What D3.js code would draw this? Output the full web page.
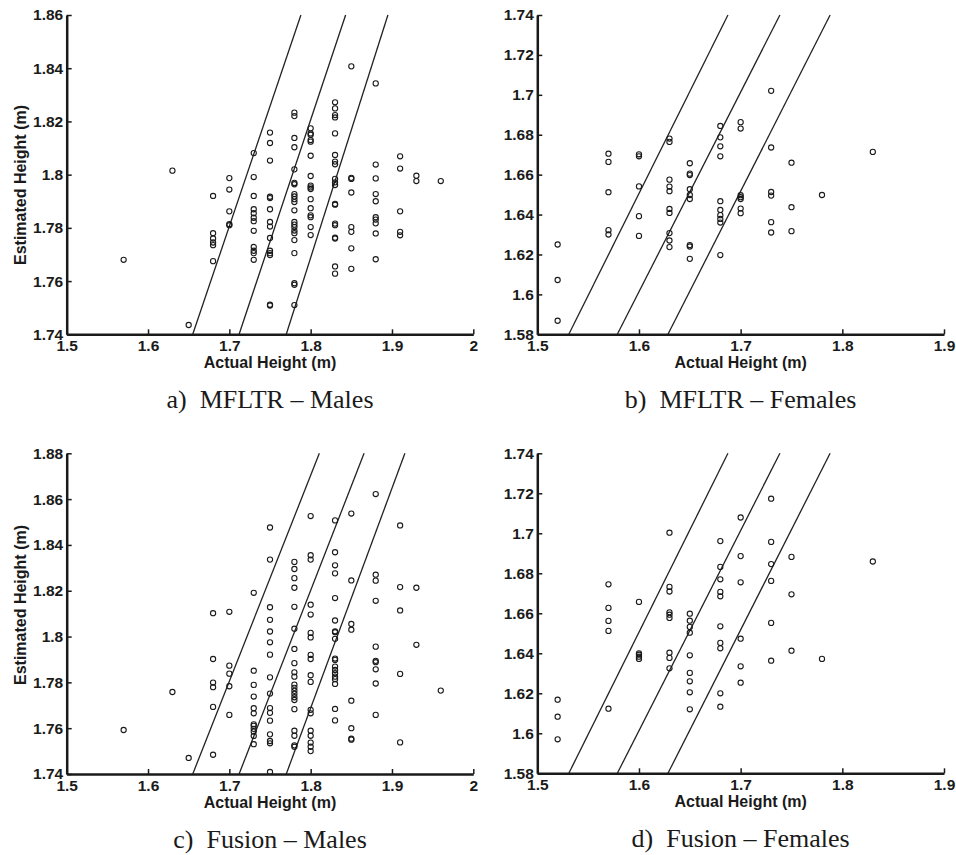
<!DOCTYPE html>
<html>
<head>
<meta charset="utf-8">
<script src="https://cdn.jsdelivr.net/npm/d3@7/dist/d3.min.js"></script>
<style>
  body { margin: 0; background: #fff; }
  .tick-label { font-family: 'Liberation Sans', Arial, sans-serif; font-weight: bold; font-size: 15.5px; fill: #1a1a1a; }
  .axis-title { font-family: 'Liberation Sans', Arial, sans-serif; font-weight: bold; font-size: 16px; fill: #1a1a1a; }
  .caption { font-family: 'Liberation Serif', 'Times New Roman', serif; font-size: 26px; fill: #1a1a1a; white-space: pre; }
</style>
</head>
<body>
<svg id="chart" width="956" height="855"></svg>
<script>
// actual height (m) -> estimated heights (m), read column by column
var mfltrMales = [
  [1.57, [1.768]],
  [1.63, [1.8015]],
  [1.65, [1.7435]],
  [1.68, [1.792, 1.778, 1.776, 1.7745, 1.7735, 1.7675]],
  [1.70, [1.7987, 1.7944, 1.7862, 1.7814, 1.781]],
  [1.73, [1.8081, 1.7991, 1.792, 1.787, 1.7855, 1.7838, 1.7825, 1.7789, 1.7728, 1.7714, 1.7705, 1.768]],
  [1.75, [1.8158, 1.8119, 1.8053, 1.7917, 1.7912, 1.787, 1.7822, 1.7805, 1.7762, 1.7714, 1.7705, 1.7698, 1.7511, 1.7508]],
  [1.78, [1.8233, 1.822, 1.8138, 1.8103, 1.802, 1.7969, 1.7964, 1.7927, 1.7918, 1.7908, 1.7897, 1.7866, 1.7822, 1.7812, 1.7803, 1.779, 1.778, 1.7754, 1.7705, 1.7592, 1.7586, 1.751]],
  [1.80, [1.8174, 1.8155, 1.815, 1.813, 1.8124, 1.8071, 1.7995, 1.7959, 1.7952, 1.7946, 1.7908, 1.7874, 1.7847, 1.784, 1.7803, 1.7773]],
  [1.83, [1.8272, 1.8249, 1.8224, 1.8215, 1.8155, 1.8074, 1.8049, 1.8039, 1.7984, 1.7971, 1.7961, 1.789, 1.7887, 1.7816, 1.781, 1.7763, 1.776, 1.7655, 1.7628]],
  [1.85, [1.8407, 1.7988, 1.7984, 1.7933, 1.7803, 1.7785, 1.7723, 1.7646]],
  [1.88, [1.8343, 1.8038, 1.7986, 1.7927, 1.79, 1.784, 1.7831, 1.7817, 1.7779, 1.7682]],
  [1.91, [1.8069, 1.8023, 1.7862, 1.7785, 1.7772]],
  [1.93, [1.7996, 1.7976]],
  [1.96, [1.7976]]
]
var mfltrFemales = [
  [1.52, [1.625, 1.6072, 1.5868]],
  [1.57, [1.6705, 1.6664, 1.6512, 1.6322, 1.63]],
  [1.60, [1.6702, 1.6692, 1.6541, 1.6392, 1.6293]],
  [1.63, [1.6781, 1.6764, 1.6575, 1.654, 1.6517, 1.6428, 1.6408, 1.6307, 1.627, 1.6237]],
  [1.65, [1.6657, 1.6605, 1.6598, 1.6527, 1.6498, 1.6478, 1.6247, 1.624, 1.6178]],
  [1.68, [1.6844, 1.6787, 1.6742, 1.6692, 1.6467, 1.6423, 1.6397, 1.6378, 1.636, 1.6197]],
  [1.70, [1.6863, 1.6831, 1.6497, 1.6487, 1.6478, 1.643, 1.6407]],
  [1.73, [1.702, 1.6736, 1.6513, 1.6495, 1.6362, 1.631]],
  [1.75, [1.666, 1.6437, 1.6317]],
  [1.78, [1.6498]],
  [1.83, [1.6714]]
]
var fusionMales = [
  [1.57, [1.7592]],
  [1.63, [1.7758]],
  [1.65, [1.747]],
  [1.68, [1.8102, 1.7902, 1.7799, 1.7779, 1.7693, 1.7484]],
  [1.70, [1.8108, 1.7873, 1.7838, 1.7783, 1.7658]],
  [1.73, [1.8191, 1.7851, 1.7789, 1.7738, 1.7687, 1.7665, 1.7617, 1.761, 1.7597, 1.7585, 1.7566, 1.753]],
  [1.75, [1.8476, 1.8336, 1.8128, 1.8073, 1.8022, 1.7975, 1.7921, 1.7822, 1.7751, 1.7688, 1.7667, 1.7633, 1.7573, 1.7544, 1.7534, 1.7409]],
  [1.78, [1.8326, 1.8295, 1.8255, 1.8213, 1.813, 1.8034, 1.7946, 1.7884, 1.7844, 1.7825, 1.779, 1.7776, 1.7763, 1.775, 1.7735, 1.7723, 1.7683, 1.7589, 1.7567, 1.7525, 1.7519]],
  [1.80, [1.8526, 1.8355, 1.8336, 1.8139, 1.8096, 1.8016, 1.7996, 1.792, 1.7902, 1.7831, 1.7802, 1.768, 1.7665, 1.7589, 1.7567, 1.7537, 1.7519, 1.75]],
  [1.83, [1.8507, 1.8368, 1.8311, 1.8276, 1.8168, 1.807, 1.8023, 1.8019, 1.799, 1.7904, 1.7898, 1.7869, 1.7854, 1.784, 1.7825, 1.7814, 1.7793, 1.7684, 1.7634]],
  [1.85, [1.8537, 1.8245, 1.8055, 1.803, 1.772, 1.76, 1.7554, 1.755]],
  [1.88, [1.8622, 1.827, 1.8244, 1.8156, 1.7956, 1.7894, 1.7888, 1.7857, 1.7795, 1.7658]],
  [1.91, [1.8485, 1.8216, 1.8114, 1.7837, 1.7538]],
  [1.93, [1.8213, 1.7964]],
  [1.96, [1.7764]]
]
var fusionFemales = [
  [1.52, [1.6168, 1.6083, 1.597]],
  [1.57, [1.6745, 1.6627, 1.6562, 1.6512, 1.6123]],
  [1.60, [1.6657, 1.64, 1.6393, 1.6383, 1.6372]],
  [1.63, [1.7003, 1.6732, 1.6709, 1.6605, 1.6593, 1.6577, 1.6403, 1.6377, 1.6325]],
  [1.65, [1.6598, 1.6563, 1.6532, 1.6503, 1.639, 1.6302, 1.626, 1.6205, 1.612]],
  [1.68, [1.6961, 1.6832, 1.677, 1.6707, 1.6685, 1.6535, 1.6452, 1.6425, 1.62, 1.6133]],
  [1.70, [1.7079, 1.6886, 1.6755, 1.6473, 1.6335, 1.6253]],
  [1.73, [1.7173, 1.6957, 1.6846, 1.6762, 1.6552, 1.6363]],
  [1.75, [1.6882, 1.6695, 1.6413]],
  [1.78, [1.6372]],
  [1.83, [1.6859]]
]

// reference lines as [x0, y0, x1, y1] in data units
var maleLinesA = [[1.655, 1.74, 1.788, 1.86], [1.712, 1.74, 1.843, 1.86], [1.770, 1.74, 1.895, 1.86]]
var maleLinesC = [[1.655, 1.74, 1.8107, 1.88], [1.712, 1.74, 1.8657, 1.88], [1.770, 1.74, 1.9159, 1.88]]
var femaleLines = [[1.531, 1.58, 1.6875, 1.74], [1.5787, 1.58, 1.7386, 1.74], [1.6285, 1.58, 1.788, 1.74]]

var maleXTicks = [1.5, 1.6, 1.7, 1.8, 1.9, 2]
var femaleXTicks = [1.5, 1.6, 1.7, 1.8, 1.9]
var yTicksA = [1.74, 1.76, 1.78, 1.8, 1.82, 1.84, 1.86]
var yTicksC = [1.74, 1.76, 1.78, 1.8, 1.82, 1.84, 1.86, 1.88]
var yTicksFemale = [1.58, 1.6, 1.62, 1.64, 1.66, 1.68, 1.7, 1.72, 1.74]

var xTitle = 'Actual Height (m)'
var yTitle = 'Estimated Height (m)'

var panels = [
  { data: mfltrMales, lines: maleLinesA, xTicks: maleXTicks, yTicks: yTicksA, xDomain: [1.5, 2], yDomain: [1.74, 1.86],
    box: [66.7, 473.3, 15, 334.3], yTitleY: 185, caption: 'a)  MFLTR \u2013 Males' },
  { data: mfltrFemales, lines: femaleLines, xTicks: femaleXTicks, yTicks: yTicksFemale, xDomain: [1.5, 1.9], yDomain: [1.58, 1.74],
    box: [537.3, 944, 15, 334.3], yTitleY: null, caption: 'b)  MFLTR \u2013 Females' },
  { data: fusionMales, lines: maleLinesC, xTicks: maleXTicks, yTicks: yTicksC, xDomain: [1.5, 2], yDomain: [1.74, 1.88],
    box: [66.7, 473.3, 453.3, 774], yTitleY: 605, caption: 'c)  Fusion \u2013 Males' },
  { data: fusionFemales, lines: femaleLines, xTicks: femaleXTicks, yTicks: yTicksFemale, xDomain: [1.5, 1.9], yDomain: [1.58, 1.74],
    box: [537.3, 944, 453.3, 773.3], yTitleY: null, caption: 'd)  Fusion \u2013 Females' }
]

var svg = d3.select('#chart')
svg.append('rect').attr('width', 956).attr('height', 855).attr('fill', '#fff')

var fmt = function(d) {
  return '' + +d.toFixed(2)
}

function drawPanel(p) {
  var left = p.box[0],
    right = p.box[1],
    top = p.box[2],
    bottom = p.box[3]
  var x = d3.scaleLinear().domain(p.xDomain).range([left, right])
  var y = d3.scaleLinear().domain(p.yDomain).range([bottom, top])
  var g = svg.append('g')

  // reference lines
  g.selectAll('line.ref')
    .data(p.lines)
    .enter()
    .append('line')
    .attr('class', 'ref')
    .attr('x1', function(d) { return x(d[0]) })
    .attr('y1', function(d) { return y(d[1]) })
    .attr('x2', function(d) { return x(d[2]) })
    .attr('y2', function(d) { return y(d[3]) })
    .attr('stroke', '#222')
    .attr('stroke-width', 1.3)

  // points
  var pts = []
  p.data.forEach(function(col) {
    col[1].forEach(function(v) {
      pts.push([col[0], v])
    })
  })
  g.selectAll('circle')
    .data(pts)
    .enter()
    .append('circle')
    .attr('cx', function(d) { return x(d[0]) })
    .attr('cy', function(d) { return y(d[1]) })
    .attr('r', 2.6)
    .attr('fill', 'none')
    .attr('stroke', '#1a1a1a')
    .attr('stroke-width', 1.1)

  // axes, matlab style: inward ticks, no box
  var xAxis = d3.axisBottom(x).tickValues(p.xTicks).tickSize(-5).tickSizeOuter(0).tickFormat(fmt).tickPadding(12)
  var yAxis = d3.axisLeft(y).tickValues(p.yTicks).tickSize(-5).tickSizeOuter(0).tickFormat(fmt).tickPadding(8)
  var gx = g.append('g').attr('transform', 'translate(0,' + bottom + ')').call(xAxis)
  var gy = g.append('g').attr('transform', 'translate(' + left + ',0)').call(yAxis)
  ;[gx, gy].forEach(function(a) {
    a.select('.domain').attr('stroke', '#1a1a1a').attr('stroke-width', 2.5)
    a.selectAll('.tick line').attr('stroke', '#1a1a1a').attr('stroke-width', 1.5)
    a.selectAll('.tick text').attr('class', 'tick-label').attr('font-size', null).attr('font-family', null).attr('fill', null)
  })
  gx.selectAll('.tick text').attr('dy', '0.71em').attr('y', 6)
  gy.selectAll('.tick text').attr('x', -3.5)

  g.append('text')
    .attr('class', 'axis-title')
    .attr('text-anchor', 'middle')
    .attr('x', (left + right) / 2)
    .attr('y', bottom + 34)
    .text(xTitle)
  if (p.yTitleY !== null) {
    g.append('text')
      .attr('class', 'axis-title')
      .attr('text-anchor', 'middle')
      .attr('transform', 'translate(26,' + p.yTitleY + ') rotate(-90)')
      .text(yTitle)
  }
  g.append('text')
    .attr('class', 'caption')
    .attr('text-anchor', 'middle')
    .attr('x', (left + right) / 2)
    .attr('y', bottom + 74)
    .text(p.caption)
}

panels.forEach(drawPanel)
</script>
</body>
</html>
